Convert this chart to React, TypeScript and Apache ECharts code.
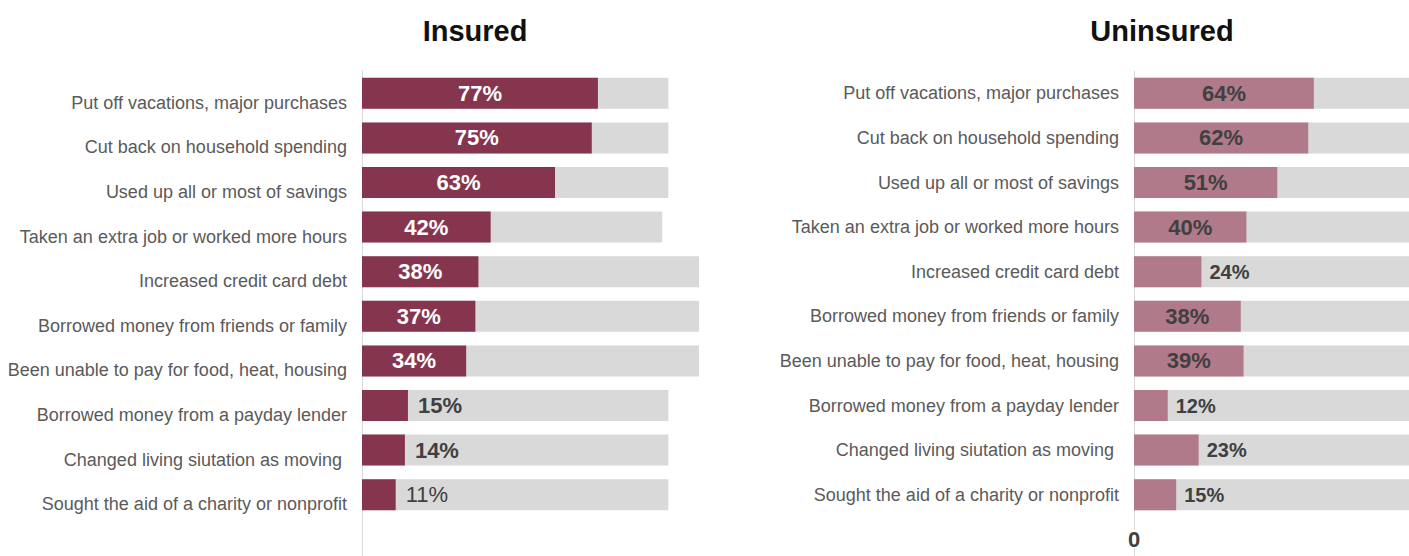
import React, { useEffect, useRef } from "react";
import * as echarts from "echarts";

const categories = [
  "Put off vacations, major purchases",
  "Cut back on household spending",
  "Used up all or most of savings",
  "Taken an extra job or worked more hours",
  "Increased credit card debt",
  "Borrowed money from friends or family",
  "Been unable to pay for food, heat, housing",
  "Borrowed money from a payday lender",
  "Changed living siutation as moving ",
  "Sought the aid of a charity or nonprofit",
];
const insured = [77, 75, 63, 42, 38, 37, 34, 15, 14, 11];
const insuredTrack = [100, 100, 100, 98, 110, 110, 110, 100, 100, 100];
const uninsured = [64, 62, 51, 40, 24, 38, 39, 12, 23, 15];
const uninsuredTrack = [100, 100, 100, 100, 100, 100, 100, 100, 100, 100];
const rightTicks = [0];
const titles = ["Insured", "Uninsured"];

const FONT = "'Liberation Sans', Arial, sans-serif";
const CHART_W = 1418;
const GRID_TOP = 71;
const GRID_BOTTOM = 39;
const LEFT_X = 362;
const RIGHT_X = 1134;

export default function App() {
  const ref = useRef<HTMLDivElement>(null);
  useEffect(() => {
    document.body.style.margin = "0";
    if (!ref.current) return;
    const chart = echarts.init(ref.current, null, { renderer: "svg" });

    const leftData = insured.map((v) => ({
      value: v,
      label:
        v > 30
          ? { position: "inside", color: "#ffffff", fontWeight: "bold" }
          : {
              position: "right",
              distance: 10,
              color: "#404040",
              fontWeight: v < 12 ? "normal" : "bold",
            },
    }));
    const rightData = uninsured.map((v) => ({
      value: v,
      label:
        v > 30
          ? { position: "inside", color: "#404040", fontWeight: "bold", fontSize: 22 }
          : { position: "right", distance: 8, color: "#404040", fontWeight: "bold", fontSize: 20 },
    }));

    const yCommon = {
      type: "category",
      data: categories,
      inverse: true,
      axisTick: { show: false },
      axisLine: { show: true, lineStyle: { color: "#d9d9d9", width: 1 } },
    };

    chart.setOption({
      animation: false,
      textStyle: { fontFamily: FONT },
      title: [
        {
          text: titles[0],
          left: 470,
          top: 11,
          textAlign: "center",
          textStyle: { fontFamily: FONT, fontSize: 29, fontWeight: "bold", color: "#111" },
        },
        {
          text: titles[1],
          left: 1157,
          top: 11,
          textAlign: "center",
          textStyle: { fontFamily: FONT, fontSize: 29, fontWeight: "bold", color: "#111" },
        },
      ],
      grid: [
        { left: LEFT_X, right: CHART_W - 699, top: GRID_TOP, bottom: GRID_BOTTOM },
        { left: RIGHT_X, right: 0, top: GRID_TOP, bottom: GRID_BOTTOM },
      ],
      xAxis: [
        { gridIndex: 0, type: "value", min: 0, max: 110, show: false },
        {
          gridIndex: 1,
          type: "value",
          min: 0,
          max: 100,
          interval: 100,
          axisLine: { show: false },
          axisTick: { show: false },
          splitLine: { show: false },
          axisLabel: {
            margin: 11,
            fontFamily: FONT,
            fontSize: 22,
            fontWeight: "bold",
            color: "#404040",
            formatter: (v: number) => (rightTicks.includes(v) ? String(v) : ""),
          },
        },
      ],
      yAxis: [
        {
          ...yCommon,
          gridIndex: 0,
          axisLabel: {
            margin: 15,
            fontFamily: FONT,
            fontSize: 18,
            color: "#5a5a5a",
            verticalAlign: "top",
            lineHeight: 19,
          },
        },
        {
          ...yCommon,
          gridIndex: 1,
          axisLabel: { margin: 15, fontFamily: FONT, fontSize: 18, color: "#5a5a5a" },
        },
      ],
      series: [
        {
          type: "bar",
          xAxisIndex: 0,
          yAxisIndex: 0,
          data: insuredTrack,
          barWidth: 31,
          barGap: "-100%",
          silent: true,
          itemStyle: { color: "#d9d9d9" },
        },
        {
          type: "bar",
          xAxisIndex: 0,
          yAxisIndex: 0,
          data: leftData,
          barWidth: 31,
          barGap: "-100%",
          itemStyle: { color: "#86354f" },
          label: {
            show: true,
            formatter: "{c}%",
            fontFamily: FONT,
            fontSize: 22,
          },
        },
        {
          type: "bar",
          xAxisIndex: 1,
          yAxisIndex: 1,
          data: uninsuredTrack,
          barWidth: 31,
          barGap: "-100%",
          silent: true,
          itemStyle: { color: "#d9d9d9" },
        },
        {
          type: "bar",
          xAxisIndex: 1,
          yAxisIndex: 1,
          data: rightData,
          barWidth: 31,
          barGap: "-100%",
          itemStyle: { color: "#b07a8a" },
          label: {
            show: true,
            formatter: "{c}%",
            fontFamily: FONT,
          },
        },
      ],
      graphic: [
        {
          type: "line",
          shape: { x1: LEFT_X + 0.5, y1: 556 - GRID_BOTTOM, x2: LEFT_X + 0.5, y2: 556 },
          style: { stroke: "#d9d9d9", lineWidth: 1 },
          silent: true,
        },
        {
          type: "line",
          shape: { x1: RIGHT_X + 0.5, y1: 556 - GRID_BOTTOM, x2: RIGHT_X + 0.5, y2: 530 },
          style: { stroke: "#d9d9d9", lineWidth: 1 },
          silent: true,
        },
        {
          type: "line",
          shape: { x1: RIGHT_X + 0.5, y1: 548, x2: RIGHT_X + 0.5, y2: 556 },
          style: { stroke: "#d9d9d9", lineWidth: 1 },
          silent: true,
        },
      ],
    });
    return () => chart.dispose();
  }, []);

  return (
    <div style={{ position: "absolute", left: 0, top: 0, width: 1409, height: 556, overflow: "hidden", background: "#fff" }}>
      <div ref={ref} style={{ width: CHART_W, height: 556 }} />
    </div>
  );
}
